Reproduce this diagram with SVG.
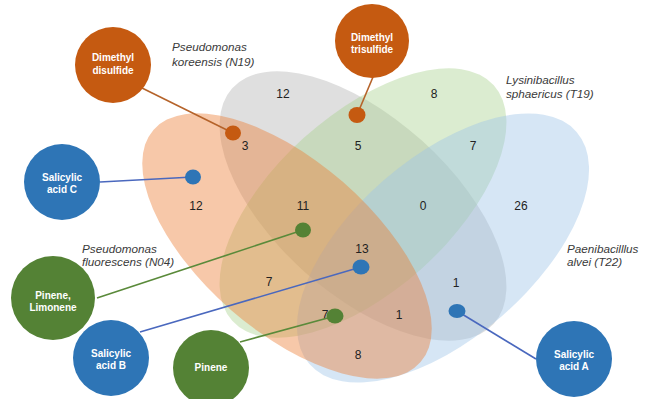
<svg xmlns="http://www.w3.org/2000/svg" width="649" height="399" viewBox="0 0 649 399">
<style>
.set{stroke:none}
.s1{fill:#ED7D31;fill-opacity:0.42}
.s2{fill:#BFBFBF;fill-opacity:0.5}
.s3{fill:#A9D18E;fill-opacity:0.42}
.s4{fill:#9DC3E6;fill-opacity:0.42}
.num{font-family:"Liberation Sans",Arial,sans-serif;font-size:12px;fill:#222;text-anchor:middle}
.sp{font-family:"Liberation Sans",Arial,sans-serif;font-size:11.7px;font-style:italic;fill:#3a3a3a}
.nt{font-family:"Liberation Sans",Arial,sans-serif;font-size:10px;font-weight:bold;fill:#fff;text-anchor:middle}
.or{fill:#C55A11}
.bl{fill:#2E75B6}
.gr{fill:#548235}
.lo{stroke:#B5632A;stroke-width:1.6;fill:none}
.lb{stroke:#4A68BE;stroke-width:1.6;fill:none}
.lg{stroke:#5A8A3A;stroke-width:1.6;fill:none}
</style>
<rect width="649" height="399" fill="#fff"/>
<g id="venn">
<ellipse class="set s2" cx="363" cy="206" rx="176" ry="88" transform="rotate(42 363 206)"/>
<ellipse class="set s3" cx="363" cy="203" rx="176" ry="88" transform="rotate(-42 363 203)"/>
<ellipse class="set s4" cx="443" cy="248" rx="177" ry="90" transform="rotate(-41 443 248)"/>
<ellipse class="set s1" cx="287" cy="246" rx="177" ry="85" transform="rotate(41 287 246)"/>
</g>
<g id="counts">
<text class="num" x="283" y="98">12</text>
<text class="num" x="245" y="150">3</text>
<text class="num" x="358" y="150">5</text>
<text class="num" x="434" y="98">8</text>
<text class="num" x="473" y="150">7</text>
<text class="num" x="196" y="210">12</text>
<text class="num" x="303" y="210">11</text>
<text class="num" x="423" y="210">0</text>
<text class="num" x="521" y="210">26</text>
<text class="num" x="362" y="253">13</text>
<text class="num" x="269" y="286">7</text>
<text class="num" x="456" y="287">1</text>
<text class="num" x="325" y="319">7</text>
<text class="num" x="399" y="319">1</text>
<text class="num" x="358" y="359">8</text>
</g>
<g id="species">
<text class="sp" x="172" y="51">Pseudomonas</text>
<text class="sp" x="172" y="66">koreensis (N19)</text>
<text class="sp" x="506" y="84">Lysinibacillus</text>
<text class="sp" x="506" y="98">sphaericus (T19)</text>
<text class="sp" x="82" y="253">Pseudomonas</text>
<text class="sp" x="82" y="266">fluorescens (N04)</text>
<text class="sp" x="567" y="253">Paenibacilllus</text>
<text class="sp" x="567" y="266">alvei (T22)</text>
</g>
<g id="connectors">
<line class="lo" x1="142" y1="88" x2="233" y2="133"/>
<line class="lo" x1="373" y1="77" x2="357" y2="115"/>
<line class="lb" x1="100" y1="182" x2="193" y2="177"/>
<line class="lg" x1="97" y1="298" x2="303" y2="230"/>
<line class="lb" x1="140" y1="332" x2="361" y2="267"/>
<line class="lg" x1="240" y1="342" x2="335" y2="316"/>
<line class="lb" x1="536" y1="359" x2="457" y2="311"/>
</g>
<g id="dot-dds"><ellipse class="or" cx="233" cy="133" rx="8" ry="7.5"/></g>
<g id="dot-dts"><ellipse class="or" cx="357" cy="115" rx="8.5" ry="8"/></g>
<g id="dot-sac"><ellipse class="bl" cx="193" cy="177" rx="8" ry="7.5"/></g>
<g id="dot-pl"><ellipse class="gr" cx="303" cy="230" rx="8" ry="7.5"/></g>
<g id="dot-sab"><ellipse class="bl" cx="361" cy="267" rx="8.5" ry="7.5"/></g>
<g id="dot-pin"><ellipse class="gr" cx="335" cy="316" rx="8.5" ry="7.5"/></g>
<g id="dot-saa"><ellipse class="bl" cx="457" cy="311" rx="8.5" ry="7"/></g>
<g id="node-dds">
<circle class="or" cx="113" cy="65" r="38"/>
<text class="nt" x="113" y="60.5">Dimethyl</text>
<text class="nt" x="113" y="73.5">disulfide</text>
</g>
<g id="node-dts">
<circle class="or" cx="372" cy="41" r="37"/>
<text class="nt" x="372" y="40.5">Dimethyl</text>
<text class="nt" x="372" y="53">trisulfide</text>
</g>
<g id="node-sac">
<circle class="bl" cx="62" cy="182" r="38"/>
<text class="nt" x="62" y="180.5">Salicylic</text>
<text class="nt" x="62" y="193">acid C</text>
</g>
<g id="node-pl">
<circle class="gr" cx="53" cy="298" r="42"/>
<text class="nt" x="53" y="299">Pinene,</text>
<text class="nt" x="53" y="311">Limonene</text>
</g>
<g id="node-sab">
<circle class="bl" cx="111" cy="358" r="38"/>
<text class="nt" x="111" y="356.5">Salicylic</text>
<text class="nt" x="111" y="368.5">acid B</text>
</g>
<g id="node-pin">
<circle class="gr" cx="211" cy="368" r="38"/>
<text class="nt" x="211" y="370.5">Pinene</text>
</g>
<g id="node-saa">
<circle class="bl" cx="574" cy="359" r="38"/>
<text class="nt" x="574" y="357.5">Salicylic</text>
<text class="nt" x="574" y="369.5">acid A</text>
</g>
</svg>
